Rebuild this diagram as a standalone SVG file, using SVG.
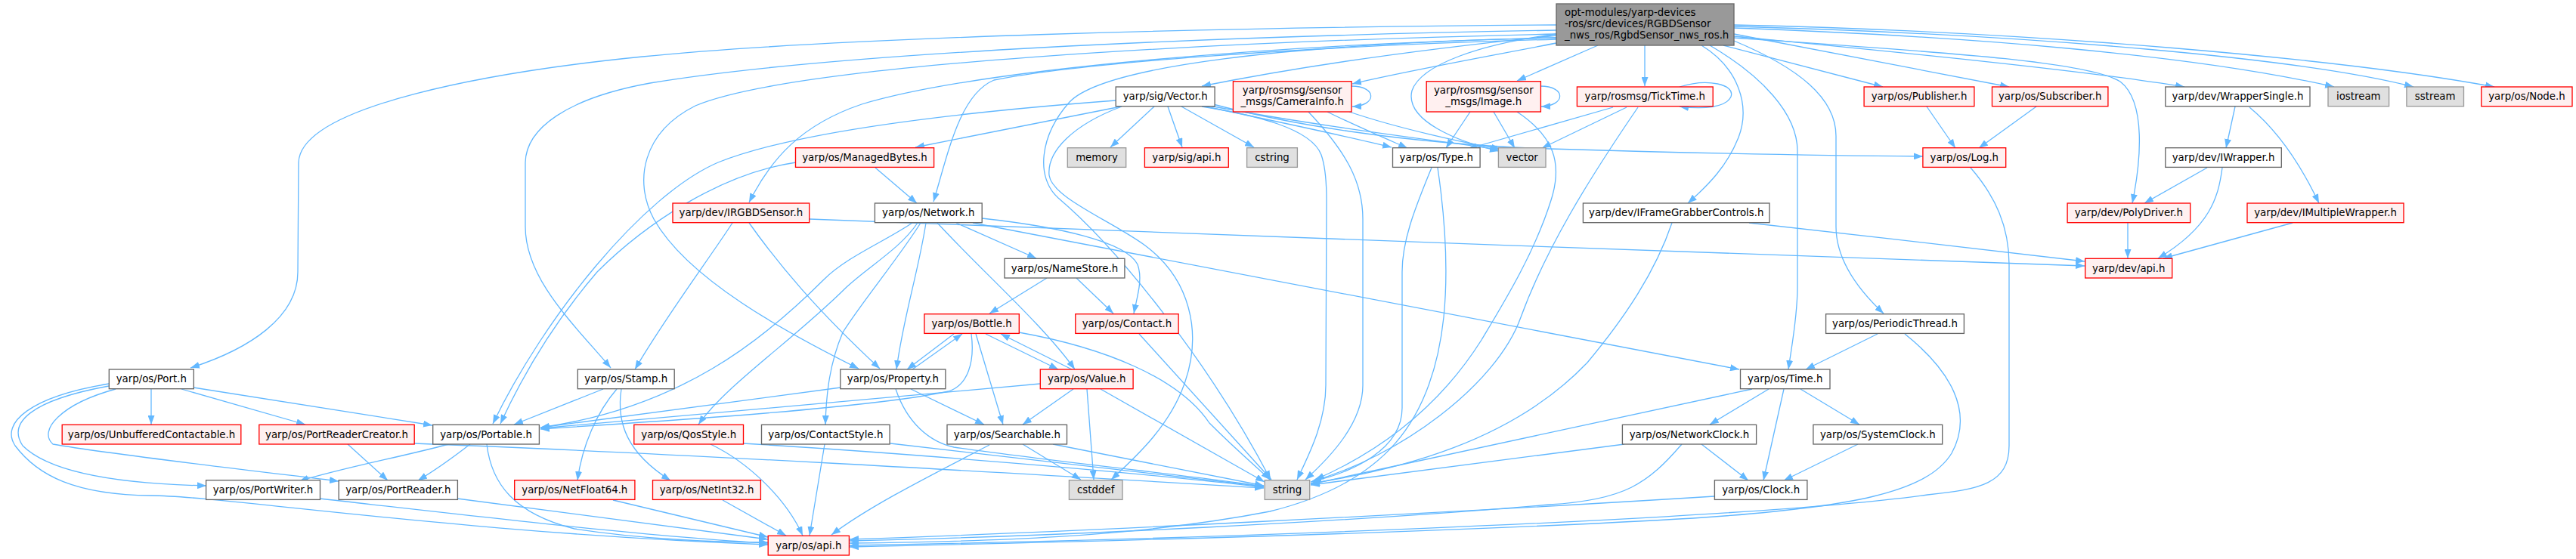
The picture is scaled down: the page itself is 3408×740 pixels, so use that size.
<svg xmlns="http://www.w3.org/2000/svg" width="3408" height="740" viewBox="0 0 3408 740">
<style>
.e{fill:none;stroke:#63b8ff;stroke-width:1.3;marker-end:url(#a)}
.w{fill:#ffffff;stroke:#666666;stroke-width:1.33}
.r{fill:#fff0f0;stroke:#ff0000;stroke-width:1.33}
.g{fill:#e0e0e0;stroke:#999999;stroke-width:1.33}
.rt{fill:#999999;stroke:#666666;stroke-width:1.33}
text{font-family:"DejaVu Sans","Liberation Sans",sans-serif;font-size:13.33px;fill:#000000;text-anchor:middle}
text.l{text-anchor:start}
</style>
<defs>
<marker id="a" markerWidth="12" markerHeight="9" refX="12" refY="4.5" orient="auto" markerUnits="userSpaceOnUse"><path d="M0,0 L12,4.5 L0,9 z" fill="#63b8ff"/></marker>
</defs>
<rect width="3408" height="740" fill="#ffffff"/>
<g id="edges">
<path class="e" d="M2059,33 C1600,36 1100,50 850,75 C650,95 398,140 395,215 L394,360 C394,420 330,462 252,487"/>
<path class="e" d="M2059,40 C1600,48 1100,70 860,110 C750,130 696,170 695,215 L695,300 C695,370 760,430 808,487"/>
<path class="e" d="M2059,45 C1600,55 1050,85 920,140 C850,175 838,240 865,290 C910,370 1040,440 1136,488"/>
<path class="e" d="M2059,50 C1700,58 1300,90 1140,138 C1060,165 1020,210 991,268"/>
<path class="e" d="M2059,52 C1700,62 1420,85 1315,106 C1270,125 1255,200 1235,267"/>
<path class="e" d="M2059,47 C1850,68 1700,92 1590,114"/>
<path class="e" d="M2059,57 C1950,78 1850,96 1789,111"/>
<path class="e" d="M2114,60 L2007,107"/>
<path class="e" d="M2176,60 L2176,114"/>
<path class="e" d="M2059,45 C1960,58 1880,85 1868,120 C1858,160 1930,188 1983,200"/>
<path class="e" d="M2059,50 C1700,58 1460,88 1415,135 C1375,180 1370,235 1400,262 C1480,330 1600,480 1681,635"/>
<path class="e" d="M1484,141 C1420,165 1385,200 1388,232 C1392,262 1470,292 1515,325 C1575,370 1590,440 1568,505 C1548,565 1500,607 1470,635"/>
<path class="e" d="M1590,141 C1660,152 1735,170 1748,205 C1755,225 1755,250 1755,265 L1754,510 C1754,560 1730,605 1716,635"/>
<path class="e" d="M1527,141 L1469,195"/>
<path class="e" d="M1545,141 L1564,195"/>
<path class="e" d="M1563,141 L1659,195"/>
<path class="e" d="M1483,141 L1211,195"/>
<path class="e" d="M1476,133 C1250,150 1050,175 950,215 C850,258 720,420 652,561"/>
<path class="e" d="M1595,141 C1700,163 1780,180 1841,195"/>
<path class="e" d="M1600,140 C1750,168 1900,186 1983,198"/>
<path class="e" d="M1605,138 C1700,163 1850,190 2050,197 C2250,203 2400,206 2544,207"/>
<path class="e" d="M1788,114 C1822,114 1822,140 1789,141"/>
<path class="e" d="M1756,148 C1790,165 1830,182 1862,196"/>
<path class="e" d="M1785,148 C1850,170 1940,190 1985,197"/>
<path class="e" d="M1731,148 C1780,200 1803,240 1803,290 L1803,510 C1803,560 1760,605 1727,635"/>
<path class="e" d="M2038,114 C2072,114 2072,140 2039,141"/>
<path class="e" d="M1945,148 L1913,196"/>
<path class="e" d="M1976,148 L2004,196"/>
<path class="e" d="M2007,148 C2055,180 2068,215 2052,265 C2030,335 1990,400 1960,450 C1900,545 1820,600 1740,635"/>
<path class="e" d="M2222,115 C2260,103 2296,112 2290,128 C2284,142 2255,145 2222,141"/>
<path class="e" d="M2134,142 L1942,197"/>
<path class="e" d="M2152,142 L2040,196"/>
<path class="e" d="M2167,142 C2100,240 2045,330 2012,420 C1980,510 1850,605 1736,637"/>
<path class="e" d="M1894,222 C1870,280 1855,320 1855,360 L1855,540 C1855,595 1790,625 1734,638"/>
<path class="e" d="M1902,222 C1912,290 1916,360 1910,420 C1895,560 1830,640 1680,677 C1500,712 1300,717 1124,719"/>
<path class="e" d="M2212,295 C2190,360 2150,420 2100,480 C2000,585 1850,622 1734,640"/>
<path class="e" d="M2314,295 C2450,310 2650,333 2758,346"/>
<path class="e" d="M2251,60 C2300,90 2316,140 2300,182 C2285,220 2260,245 2233,269"/>
<path class="e" d="M2262,60 C2330,100 2378,150 2378,200 L2378,380 C2378,420 2370,460 2366,489"/>
<path class="e" d="M2294,54 C2380,90 2429,130 2429,180 L2429,300 C2429,345 2460,385 2492,415"/>
<path class="e" d="M2280,60 L2491,115"/>
<path class="e" d="M2294,45 L2658,115"/>
<path class="e" d="M2294,50 C2550,68 2760,80 2805,108 C2840,135 2832,215 2821,269"/>
<path class="e" d="M2294,48 C2500,68 2750,92 2890,115"/>
<path class="e" d="M2294,37 C2600,48 2900,72 3088,115"/>
<path class="e" d="M2294,35 C2700,46 3050,78 3193,115"/>
<path class="e" d="M2294,33 C2700,42 3100,78 3300,115"/>
<path class="e" d="M2549,141 L2587,196"/>
<path class="e" d="M2694,141 L2618,196"/>
<path class="e" d="M2607,222 C2640,260 2658,300 2658,350 L2658,590 C2658,640 2620,648 2550,655 C2300,690 1500,716 1124,722"/>
<path class="e" d="M2957,141 L2945,196"/>
<path class="e" d="M2976,142 C3010,170 3040,210 3068,269"/>
<path class="e" d="M2920,222 L2837,269"/>
<path class="e" d="M2940,222 C2935,260 2925,300 2855,342"/>
<path class="e" d="M2815,295 L2815,342"/>
<path class="e" d="M3033,295 L2862,342"/>
<path class="e" d="M1071,290 C1400,305 2300,335 2758,352"/>
<path class="e" d="M969,295 C940,340 880,420 840,489"/>
<path class="e" d="M991,295 C1030,350 1080,410 1164,488"/>
<path class="e" d="M1225,295 C1215,360 1195,420 1186,489"/>
<path class="e" d="M1240,295 C1300,360 1380,430 1422,489"/>
<path class="e" d="M1265,295 L1371,342"/>
<path class="e" d="M1287,295 L2301,489"/>
<path class="e" d="M1299,289 C1400,300 1490,320 1505,350 C1512,370 1505,390 1500,415"/>
<path class="e" d="M1207,295 C1170,320 1120,340 1090,370 C1010,450 900,540 715,566"/>
<path class="e" d="M1214,295 C1190,330 1150,352 1120,380 C1050,450 960,510 924,562"/>
<path class="e" d="M1218,295 C1190,340 1140,400 1115,440 C1098,480 1093,520 1092,562"/>
<path class="e" d="M1112,513 L715,566"/>
<path class="e" d="M1376,508 C1200,525 900,550 715,567"/>
<path class="e" d="M1285,442 C1290,480 1280,510 1255,518 C1150,540 900,556 715,568"/>
<path class="e" d="M1262,442 L1200,489"/>
<path class="e" d="M1207,489 L1273,442"/>
<path class="e" d="M1304,442 L1400,489"/>
<path class="e" d="M1418,489 L1324,442"/>
<path class="e" d="M1291,442 L1327,562"/>
<path class="e" d="M1348,440 C1460,460 1560,500 1600,560 C1640,600 1665,620 1680,635"/>
<path class="e" d="M1205,515 L1302,562"/>
<path class="e" d="M1185,515 C1200,560 1230,585 1262,592 C1400,612 1600,632 1672,644"/>
<path class="e" d="M1420,515 L1353,562"/>
<path class="e" d="M1438,515 L1447,635"/>
<path class="e" d="M1456,515 L1673,638"/>
<path class="e" d="M1353,588 L1430,635"/>
<path class="e" d="M1393,588 L1672,643"/>
<path class="e" d="M1309,589 C1230,630 1150,670 1100,708"/>
<path class="e" d="M1507,442 L1682,635"/>
<path class="e" d="M1385,368 L1309,415"/>
<path class="e" d="M1424,368 L1473,415"/>
<path class="e" d="M1178,587 L1672,644"/>
<path class="e" d="M1091,588 L1071,709"/>
<path class="e" d="M983,587 C1200,600 1500,625 1672,645"/>
<path class="e" d="M940,588 C990,612 1040,660 1062,709"/>
<path class="e" d="M548,587 C900,600 1400,630 1672,646"/>
<path class="e" d="M644,588 C650,640 680,680 760,700 C850,714 950,718 1016,718"/>
<path class="e" d="M622,588 C600,605 580,620 553,636"/>
<path class="e" d="M594,588 C530,605 450,620 396,637"/>
<path class="e" d="M798,515 L680,562"/>
<path class="e" d="M816,515 C790,545 770,590 764,636"/>
<path class="e" d="M822,515 C815,560 830,600 887,636"/>
<path class="e" d="M811,662 L1016,711"/>
<path class="e" d="M956,662 L1040,709"/>
<path class="e" d="M605,660 L1016,714"/>
<path class="e" d="M423,660 C600,680 850,710 1016,719"/>
<path class="e" d="M144,508 C40,525 0,560 20,590 C50,630 100,655 200,656 C300,657 600,705 1016,721"/>
<path class="e" d="M144,511 C40,530 10,560 30,590 C70,630 180,641 273,643"/>
<path class="e" d="M153,515 C80,535 50,570 70,588 C150,602 350,625 448,637"/>
<path class="e" d="M200,515 L200,562"/>
<path class="e" d="M240,515 L404,562"/>
<path class="e" d="M256,513 L572,563"/>
<path class="e" d="M460,588 L513,636"/>
<path class="e" d="M1158,222 L1213,269"/>
<path class="e" d="M1053,215 C950,230 850,300 790,360 C730,430 690,500 662,561"/>
<path class="e" d="M2340,515 L2262,562"/>
<path class="e" d="M2360,515 L2333,636"/>
<path class="e" d="M2382,515 L2460,562"/>
<path class="e" d="M2318,515 L1734,641"/>
<path class="e" d="M2251,588 L2313,636"/>
<path class="e" d="M2149,588 L1734,642"/>
<path class="e" d="M2225,588 C2180,640 2150,662 2050,668 C1800,690 1400,710 1124,716"/>
<path class="e" d="M2458,588 L2360,636"/>
<path class="e" d="M2268,657 C1900,680 1400,705 1124,714"/>
<path class="e" d="M2484,442 L2389,489"/>
<path class="e" d="M2520,442 C2580,490 2612,545 2582,600 C2550,652 2450,672 2240,686 C1900,706 1400,718 1124,724"/>
</g>
<g id="root"><rect class="rt" x="2059" y="5" width="235" height="55"/><text class="l" x="2070" y="20.8">opt-modules/yarp-devices</text><text class="l" x="2070" y="35.8">-ros/src/devices/RGBDSensor</text><text class="l" x="2070" y="50.8">_nws_ros/RgbdSensor_nws_ros.h</text></g>
<g id="port"><rect class="w" x="144.3" y="489" width="112" height="25.7"/><text x="200.3" y="506.2">yarp/os/Port.h</text></g>
<g id="unbufferedcontactable"><rect class="r" x="82.2" y="562.3" width="236.6" height="25.7"/><text x="200.5" y="579.5">yarp/os/UnbufferedContactable.h</text></g>
<g id="portreadercreator"><rect class="r" x="342.8" y="562.3" width="205.4" height="25.7"/><text x="445.5" y="579.5">yarp/os/PortReaderCreator.h</text></g>
<g id="portwriter"><rect class="w" x="272.6" y="635.7" width="150.9" height="25.7"/><text x="348" y="652.9">yarp/os/PortWriter.h</text></g>
<g id="portreader"><rect class="w" x="448.2" y="635.7" width="157.2" height="25.7"/><text x="526.8" y="652.9">yarp/os/PortReader.h</text></g>
<g id="portable"><rect class="w" x="572.7" y="562.3" width="140.7" height="25.7"/><text x="643" y="579.5">yarp/os/Portable.h</text></g>
<g id="stamp"><rect class="w" x="764.3" y="489" width="127.9" height="25.7"/><text x="828.2" y="506.2">yarp/os/Stamp.h</text></g>
<g id="netfloat64"><rect class="r" x="680.7" y="635.7" width="159.2" height="25.7"/><text x="760.3" y="652.9">yarp/os/NetFloat64.h</text></g>
<g id="netint32"><rect class="r" x="863.5" y="635.7" width="142.9" height="25.7"/><text x="935" y="652.9">yarp/os/NetInt32.h</text></g>
<g id="osapi"><rect class="r" x="1016.2" y="709.3" width="107.2" height="25.7"/><text x="1069.8" y="726.5">yarp/os/api.h</text></g>
<g id="qosstyle"><rect class="r" x="838.8" y="562.3" width="144.7" height="25.7"/><text x="911.2" y="579.5">yarp/os/QosStyle.h</text></g>
<g id="contactstyle"><rect class="w" x="1007.5" y="562.3" width="169.6" height="25.7"/><text x="1092.3" y="579.5">yarp/os/ContactStyle.h</text></g>
<g id="property"><rect class="w" x="1111.8" y="489" width="139.1" height="25.7"/><text x="1181.4" y="506.2">yarp/os/Property.h</text></g>
<g id="bottle"><rect class="r" x="1222.9" y="415.7" width="125.4" height="25.7"/><text x="1285.6" y="432.9">yarp/os/Bottle.h</text></g>
<g id="contact"><rect class="r" x="1422.8" y="415.7" width="136.3" height="25.7"/><text x="1491" y="432.9">yarp/os/Contact.h</text></g>
<g id="value"><rect class="r" x="1376.3" y="489" width="122.8" height="25.7"/><text x="1437.7" y="506.2">yarp/os/Value.h</text></g>
<g id="searchable"><rect class="w" x="1253" y="562.3" width="158.5" height="25.7"/><text x="1332.3" y="579.5">yarp/os/Searchable.h</text></g>
<g id="cstddef"><rect class="g" x="1414.4" y="635.7" width="70.6" height="25.7"/><text x="1449.7" y="652.9">cstddef</text></g>
<g id="string"><rect class="g" x="1673.2" y="635.7" width="59.5" height="25.7"/><text x="1703" y="652.9">string</text></g>
<g id="namestore"><rect class="w" x="1329" y="342.3" width="158.9" height="25.7"/><text x="1408.5" y="359.5">yarp/os/NameStore.h</text></g>
<g id="network"><rect class="w" x="1157.4" y="269" width="141.8" height="25.7"/><text x="1228.3" y="286.2">yarp/os/Network.h</text></g>
<g id="irgbdsensor"><rect class="r" x="890" y="269" width="180.7" height="25.7"/><text x="980.4" y="286.2">yarp/dev/IRGBDSensor.h</text></g>
<g id="managedbytes"><rect class="r" x="1052.5" y="195.7" width="183.1" height="25.7"/><text x="1144" y="212.9">yarp/os/ManagedBytes.h</text></g>
<g id="vector_h"><rect class="w" x="1476.2" y="115" width="130.9" height="25.7"/><text x="1541.7" y="132.2">yarp/sig/Vector.h</text></g>
<g id="memory"><rect class="g" x="1412.3" y="195.7" width="77.4" height="25.7"/><text x="1451" y="212.9">memory</text></g>
<g id="sigapi"><rect class="r" x="1514.4" y="195.7" width="110.9" height="25.7"/><text x="1569.9" y="212.9">yarp/sig/api.h</text></g>
<g id="cstring"><rect class="g" x="1649.6" y="195.7" width="66.8" height="25.7"/><text x="1683" y="212.9">cstring</text></g>
<g id="camerainfo"><rect class="r" x="1631.4" y="107.7" width="156.6" height="40.3"/><text x="1709.7" y="124">yarp/rosmsg/sensor</text><text x="1709.7" y="139">_msgs/CameraInfo.h</text></g>
<g id="type"><rect class="w" x="1842.5" y="195.7" width="115.6" height="25.7"/><text x="1900.3" y="212.9">yarp/os/Type.h</text></g>
<g id="vector"><rect class="g" x="1982.4" y="195.7" width="62.6" height="25.7"/><text x="2013.7" y="212.9">vector</text></g>
<g id="image"><rect class="r" x="1887.2" y="107.7" width="151.2" height="40.3"/><text x="1962.8" y="124">yarp/rosmsg/sensor</text><text x="1962.8" y="139">_msgs/Image.h</text></g>
<g id="ticktime"><rect class="r" x="2086.4" y="115" width="179.8" height="25.7"/><text x="2176.3" y="132.2">yarp/rosmsg/TickTime.h</text></g>
<g id="iframegrabbercontrols"><rect class="w" x="2094.4" y="269" width="246.6" height="25.7"/><text x="2217.7" y="286.2">yarp/dev/IFrameGrabberControls.h</text></g>
<g id="publisher"><rect class="r" x="2466.1" y="115" width="145.8" height="25.7"/><text x="2539" y="132.2">yarp/os/Publisher.h</text></g>
<g id="subscriber"><rect class="r" x="2635.5" y="115" width="153.4" height="25.7"/><text x="2712.2" y="132.2">yarp/os/Subscriber.h</text></g>
<g id="log"><rect class="r" x="2543.9" y="195.7" width="109.8" height="25.7"/><text x="2598.8" y="212.9">yarp/os/Log.h</text></g>
<g id="polydriver"><rect class="r" x="2735.1" y="269" width="162.6" height="25.7"/><text x="2816.4" y="286.2">yarp/dev/PolyDriver.h</text></g>
<g id="devapi"><rect class="r" x="2758.7" y="342.3" width="115" height="25.7"/><text x="2816.2" y="359.5">yarp/dev/api.h</text></g>
<g id="wrappersingle"><rect class="w" x="2864.8" y="115" width="191.2" height="25.7"/><text x="2960.4" y="132.2">yarp/dev/WrapperSingle.h</text></g>
<g id="iostream"><rect class="g" x="3080" y="115" width="80.6" height="25.7"/><text x="3120.3" y="132.2">iostream</text></g>
<g id="sstream"><rect class="g" x="3183.9" y="115" width="75.6" height="25.7"/><text x="3221.7" y="132.2">sstream</text></g>
<g id="node"><rect class="r" x="3282.8" y="115" width="120.2" height="25.7"/><text x="3342.9" y="132.2">yarp/os/Node.h</text></g>
<g id="iwrapper"><rect class="w" x="2864.8" y="195.7" width="153.5" height="25.7"/><text x="2941.6" y="212.9">yarp/dev/IWrapper.h</text></g>
<g id="imultiplewrapper"><rect class="r" x="2973" y="269" width="207" height="25.7"/><text x="3076.5" y="286.2">yarp/dev/IMultipleWrapper.h</text></g>
<g id="periodicthread"><rect class="w" x="2415.6" y="415.7" width="182.8" height="25.7"/><text x="2507" y="432.9">yarp/os/PeriodicThread.h</text></g>
<g id="time"><rect class="w" x="2302.5" y="489" width="118.5" height="25.7"/><text x="2361.8" y="506.2">yarp/os/Time.h</text></g>
<g id="networkclock"><rect class="w" x="2146.4" y="562.3" width="177.2" height="25.7"/><text x="2235" y="579.5">yarp/os/NetworkClock.h</text></g>
<g id="systemclock"><rect class="w" x="2398.9" y="562.3" width="170.8" height="25.7"/><text x="2484.3" y="579.5">yarp/os/SystemClock.h</text></g>
<g id="clock"><rect class="w" x="2268.4" y="635.7" width="122.5" height="25.7"/><text x="2329.7" y="652.9">yarp/os/Clock.h</text></g>
</svg>
